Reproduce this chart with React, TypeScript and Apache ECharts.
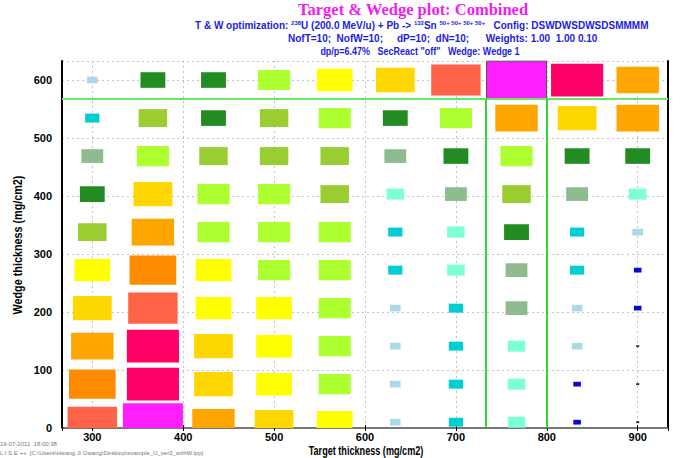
import React, { useEffect, useRef } from "react";
import * as echarts from "echarts";

// Target thickness (mg/cm2) of each column, wedge thickness (mg/cm2) of each row
const targets = [300, 366.67, 433.33, 500, 566.67, 633.33, 700, 766.67, 833.33, 900];
const wedges = [10, 75.6, 141.1, 206.7, 272.2, 337.8, 403.3, 468.9, 534.4, 600];

// Colour classes, lowest to highest
const levelCodes = ["K", "N", "B", "T", "A", "S", "F", "V", "L", "Y", "G", "O", "D", "R", "P", "M"];
const levelColors = [
  "#22225e", "#0a0acd", "#add8e6", "#00ced1", "#7fffd4", "#8fbc8f", "#228b22", "#9acd32",
  "#adff2f", "#ffff00", "#ffd700", "#ffa500", "#ff8c00", "#ff6347", "#ff0066", "#ff1eff",
];
// relative size of the rectangle (fraction of a cell) for each class
const levelSizes = [0.05, 0.125, 0.175, 0.235, 0.29, 0.36, 0.41, 0.47, 0.53, 0.59, 0.64, 0.7, 0.77, 0.815, 0.86, 0.99];

// one string per wedge row (from the lowest wedge upward), one letter per target column
const rows = [
  "RMOGYBTANK",
  "DPGYLBTANK",
  "OPGYLBTABK",
  "GRYYLBTSBN",
  "YDYLLTASTN",
  "VOLLLTAFTB",
  "FGLLVASVSA",
  "SLVVVSFLFF",
  "TVFVLFLOGO",
  "BFFLYGRMPO",
];

const best = [766.67, 600];
const cutWedge = 567.2;
const cutTargets = [733.33, 800];
const xRange = [266.67, 933.33];
const yRange = [0, 632.8];
const cellW = 66.67;
const cellH = 65.6;

const footer1 = "19-07-2011  18:00:38";
const footer2 = "L I S E ++  [C:\\Users\\Hwang Ji Gwang\\Desktop\\example_U_ver2_withW.lpp]";

export default function App() {
  const ref = useRef<HTMLDivElement>(null);
  useEffect(() => {
    document.body.style.margin = "0";
    const chart = echarts.init(ref.current!, null, { renderer: "svg" });
    const data: number[][] = [];
    rows.forEach((row, wi) => {
      row.split("").forEach((code, ti) => {
        const lvl = levelCodes.indexOf(code);
        const isBest = targets[ti] === best[0] && wedges[wi] === best[1] ? 1 : 0;
        data.push([targets[ti], wedges[wi], levelSizes[lvl], lvl, isBest]);
      });
    });
    const labelFmt = (v: number) => (Math.abs(v % 100) < 1e-6 ? String(v) : "");
    const sans = "'Liberation Sans', Arial, sans-serif";
    const blue = "#1c1ce0";
    const option: any = {
      animation: false,
      backgroundColor: "#ffffff",
      grid: { left: 62, right: 14, top: 61, bottom: 30, containLabel: false },
      xAxis: [
        {
          type: "value",
          min: xRange[0],
          max: xRange[1],
          position: "bottom",
          axisLine: { lineStyle: { color: "#000", width: 2 } },
          axisTick: { show: true, length: 3, lineStyle: { color: "#000" } },
          axisLabel: { formatter: labelFmt, fontFamily: sans, fontWeight: "bold", fontSize: 11, color: "#000", margin: 3 },
          splitLine: { show: true, lineStyle: { color: "#c4c4c4", type: [2, 3], width: 1 } },
        },
        {
          type: "value",
          min: xRange[0],
          max: xRange[1],
          position: "top",
          axisLine: { lineStyle: { color: "#777", width: 2 } },
          axisTick: { show: true, length: 3, lineStyle: { color: "#000" } },
          axisLabel: { show: false },
          splitLine: { show: false },
        },
      ],
      yAxis: [
        {
          type: "value",
          min: yRange[0],
          max: yRange[1],
          position: "left",
          axisLine: { lineStyle: { color: "#000", width: 2 } },
          axisTick: { show: false },
          axisLabel: { formatter: labelFmt, fontFamily: sans, fontWeight: "bold", fontSize: 11, color: "#000", margin: 10 },
          splitLine: { show: true, lineStyle: { color: "#c4c4c4", type: [2, 3], width: 1 } },
        },
        {
          type: "value",
          min: yRange[0],
          max: yRange[1],
          position: "right",
          axisLine: { lineStyle: { color: "#000", width: 2 } },
          axisTick: { show: false },
          axisLabel: { show: false },
          splitLine: { show: false },
        },
      ],
      series: [
        {
          type: "custom",
          xAxisIndex: 0,
          yAxisIndex: 0,
          data,
          renderItem: (params: any, api: any) => {
            const c = api.coord([api.value(0), api.value(1)]);
            const sz = api.size([cellW, cellH]);
            const f = api.value(2);
            const w = sz[0] * f;
            const h = sz[1] * f;
            const cs = params.coordSys;
            const shape = echarts.graphic.clipRectByRect(
              { x: c[0] - w / 2, y: c[1] - h / 2, width: w, height: h },
              { x: cs.x, y: cs.y, width: cs.width, height: cs.height }
            );
            if (!shape) return null;
            const isBest = api.value(4) === 1;
            return {
              type: "rect",
              shape,
              style: {
                fill: levelColors[api.value(3)],
                stroke: isBest ? "#555" : null,
                lineWidth: isBest ? 1 : 0,
              },
            };
          },
          markLine: {
            silent: true,
            symbol: "none",
            label: { show: false },
            lineStyle: { color: "#33d633", width: 2, type: "solid" },
            data: [
              [
                { coord: [xRange[0], cutWedge], lineStyle: { color: "#66e866", width: 2, type: "solid" } },
                { coord: [xRange[1], cutWedge] },
              ],
              ...cutTargets.map((t) => [{ coord: [t, yRange[0]] }, { coord: [t, cutWedge] }]),
            ],
          },
        },
      ],
      graphic: [
        {
          type: "text",
          left: 298,
          top: 1,
          style: {
            text: "Target & Wedge plot: Combined",
            fill: "#f01ef0",
            font: "bold 16.5px 'Liberation Serif', 'Times New Roman', serif",
          },
        },
        {
          type: "text",
          left: 195,
          top: 20,
          style: {
            text: "T & W optimization: {s|238}U (200.0 MeV/u) + Pb -> {s|132}Sn {s|50+ 50+ 50+ 50+}   Config: DSWDWSDWSDSMMMM",
            fill: blue,
            font: "bold 10px " + sans,
            rich: {
              s: { fontSize: 6, fontWeight: "bold", fill: blue, verticalAlign: "top", fontFamily: sans },
            },
          },
        },
        {
          type: "text",
          left: 288,
          top: 33,
          style: {
            text: "NofT=10;  NofW=10;     dP=10;  dN=10;      Weights: 1.00  1.00 0.10",
            fill: blue,
            font: "bold 10px " + sans,
          },
        },
        {
          type: "text",
          x: 420,
          y: 51,
          scaleX: 0.9,
          style: {
            text: "dp/p=6.47%   SecReact \"off\"   Wedge: Wedge 1",
            fill: blue,
            font: "bold 10px " + sans,
            textAlign: "center",
            textVerticalAlign: "middle",
          },
        },
        {
          type: "text",
          x: 366,
          y: 450,
          scaleX: 0.76,
          style: {
            text: "Target thickness (mg/cm2)",
            fill: "#000",
            font: "bold 12px " + sans,
            textAlign: "center",
            textVerticalAlign: "middle",
          },
        },
        {
          type: "text",
          x: 18,
          y: 245,
          rotation: Math.PI / 2,
          scaleX: 0.9,
          style: {
            text: "Wedge thickness (mg/cm2)",
            fill: "#000",
            font: "bold 12px " + sans,
            textAlign: "center",
            textVerticalAlign: "middle",
          },
        },
        {
          type: "text",
          left: 0,
          top: 441,
          style: { text: footer1, fill: "#777", font: "6px " + sans },
        },
        {
          type: "text",
          left: 0,
          top: 450,
          style: { text: footer2, fill: "#777", font: "6px " + sans },
        },
      ],
    };
    chart.setOption(option);
    return () => chart.dispose();
  }, []);
  return <div ref={ref} style={{ position: "absolute", left: 0, top: 0, width: 682, height: 458 }} />;
}
